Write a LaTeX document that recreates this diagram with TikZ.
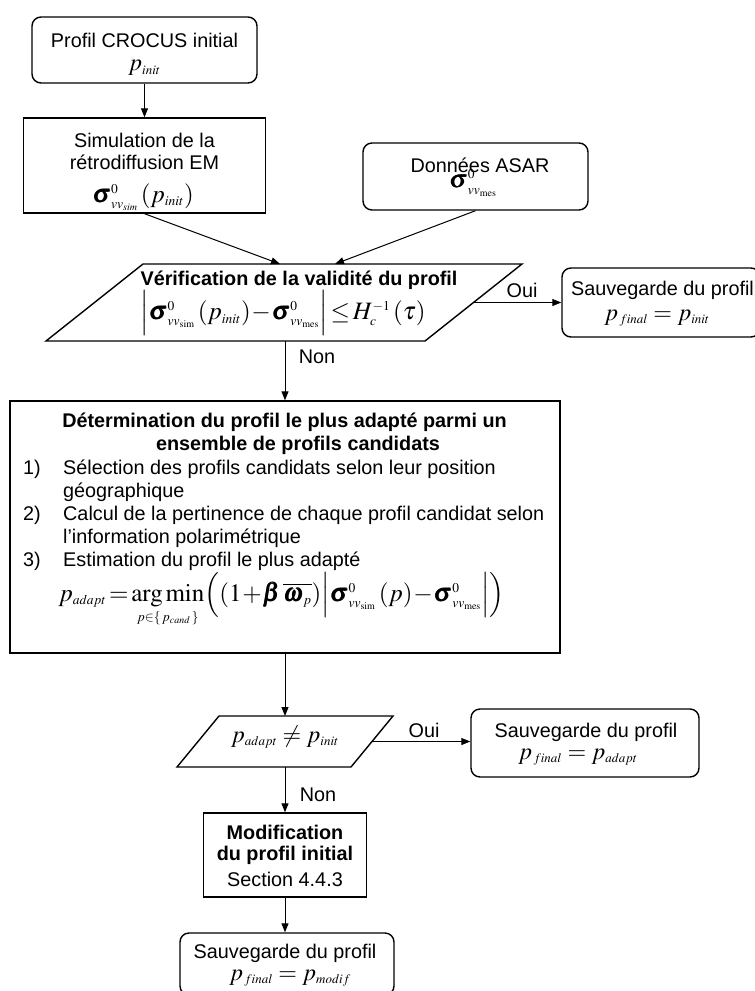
\documentclass[tikz,border=0pt]{standalone}
\usepackage{amsmath}
\usepackage{mathptmx}
\usepackage{bm}
\usepackage[no-math]{fontspec}
\setmainfont{Liberation Sans}
\usetikzlibrary{arrows.meta,calc}
\DeclareMathSizes{24}{24}{13}{10}
\DeclareMathSizes{25}{25}{13.5}{10}
\newcommand\tf{\fontsize{19.8}{23.3}\selectfont}
\newcommand\mf{\fontsize{24}{28}\selectfont}
\newcommand\mfb{\fontsize{25}{29}\selectfont}
\begin{document}
\begin{tikzpicture}[x=1pt,y=-1pt,
  sbox/.style={draw, line width=1.4pt, inner sep=0pt},
  rbox/.style={draw, line width=1.4pt, inner sep=0pt, rounded corners=9pt},
  txt/.style={inner sep=0pt, font=\tf},
  btxt/.style={inner sep=0pt, font=\tf\bfseries},
  mtxt/.style={inner sep=0pt, font=\mf},
  mbtxt/.style={inner sep=0pt, font=\mfb},
  arr/.style={line width=1pt, -{Triangle[length=9pt,width=7pt]}},
  shp/.style={line width=1.4pt, line join=miter}]
\useasboundingbox (0,0) rectangle (755,991);

% ---- boxes ----
\node[rbox, minimum width=225, minimum height=66] (A) at (144.5,50) {};
\node[sbox, minimum width=242, minimum height=95] (B) at (144.5,165.5) {};
\node[rbox, minimum width=225, minimum height=67] (C) at (475.5,176.5) {};
\node[rbox, minimum width=198, minimum height=69] (E) at (661,302.5) {};
\node[sbox, minimum width=550, minimum height=252] (F) at (285,527) {};
\node[rbox, minimum width=228, minimum height=68] (H) at (585,743) {};
\node[sbox, minimum width=163, minimum height=84] (I) at (285,855) {};
\node[rbox, minimum width=214, minimum height=62] (J) at (287,964) {};

% ---- decision shapes ----
\coordinate (d1) at (143,264); \coordinate (d2) at (522,264);
\coordinate (d3) at (425,341); \coordinate (d4) at (46,341);
\draw[shp] (d1) -- (d2) -- (d3) -- (d4) -- cycle;
\coordinate (g1) at (219,716); \coordinate (g2) at (393,716);
\coordinate (g3) at (351,767); \coordinate (g4) at (177,767);
\draw[shp] (g1) -- (g2) -- (g3) -- (g4) -- cycle;

% ---- texts ----
\node[txt] (tA1) at (144.5,40) {Profil CROCUS initial};
\node[mtxt] (tA2) at (144.5,68) {$p_{init}$};

\node[txt] (tB1) at (144.5,140) {Simulation de la};
\node[txt] (tB2) at (144.5,162) {rétrodiffusion EM};
\node[mbtxt] (tB3) at (143,197) {$\bm{\sigma}^{0}_{vv_{sim}}\,(p_{init})$};

\node[txt] (tC1) at (480,165) {Données ASAR};
\node[mbtxt] (tC2) at (473,183) {$\bm{\sigma}^{0}_{vv_{\mathrm{mes}}}$};

\node[btxt] (tD1) at (299,280) {Vérification de la validité du profil};
\node[mbtxt] (tD2) at (283,313) {$\Big|\bm{\sigma}^{0}_{vv_{\mathrm{sim}}}\,(p_{init})\!-\!\bm{\sigma}^{0}_{vv_{\mathrm{mes}}}\Big|\!\le\! H_{c}^{-1}\,(\tau)$};

\node[txt] (tE1) at (662.5,290) {Sauvegarde du profil};
\node[mtxt] (tE2) at (657,318) {$p_{\,final}=p_{init}$};

\node[txt] (oui1) at (522,290) {Oui};
\node[txt] (non1) at (317,357) {Non};

\node[btxt] (tF1) at (284.5,422) {Détermination du profil le plus adapté parmi un};
\node[btxt] (tF2) at (298,445) {ensemble de profils candidats};
\node[txt, anchor=west] (n1) at (23,469) {1)};
\node[txt, anchor=west] (l1) at (63,469) {Sélection des profils candidats selon leur position};
\node[txt, anchor=west] (l1b) at (63,492) {géographique};
\node[txt, anchor=west] (n2) at (23,515) {2)};
\node[txt, anchor=west] (l2) at (63,515) {Calcul de la pertinence de chaque profil candidat selon};
\node[txt, anchor=west] (l2b) at (63,538) {l’information polarimétrique};
\node[txt, anchor=west] (n3) at (23,561) {3)};
\node[txt, anchor=west] (l3) at (63,561) {Estimation du profil le plus adapté};
\node[mbtxt] (tF3) at (281.5,600) {$p_{adapt}\!=\!\mathop{\arg\min}\limits_{p\in\{\,p_{cand}\,\}}\!\Big((1\!+\!\bm{\beta}\,\overline{\bm{\omega}_{p}})\Big|\bm{\sigma}^{0}_{vv_{\mathrm{sim}}}\,(p)\!-\!\bm{\sigma}^{0}_{vv_{\mathrm{mes}}}\Big|\Big)$};

\node[mtxt] (tG) at (285,737) {$p_{adapt}\neq p_{init}$};
\node[txt] (oui2) at (424,730) {Oui};
\node[txt] (tH1) at (586,732) {Sauvegarde du profil};
\node[mtxt] (tH2) at (578,757) {$p_{\,final}=p_{adapt}$};
\node[txt] (non2) at (318,795) {Non};

\node[btxt] (tI1) at (285,832) {Modification};
\node[btxt] (tI2) at (285,855) {du profil initial};
\node[txt] (tI3) at (285,879) {Section 4.4.3};

\node[txt] (tJ1) at (285,953) {Sauvegarde du profil};
\node[mtxt] (tJ2) at (290,978) {$p_{\,final}=p_{modif}$};

% ---- connectors ----
\coordinate (Din1) at (280,264);
\coordinate (Din2) at (335,264);
\coordinate (Dout) at ($(d2)!0.5!(d3)$);
\coordinate (Dbot) at (285,341);
\coordinate (Gtop) at (285,716);
\coordinate (Gout) at ($(g2)!0.5!(g3)$);
\coordinate (Gbot) at (285,767);

\draw[arr] (A.south) -- (B.north);
\draw[arr] (B.south) -- (Din1);
\draw[arr] (C.south) -- (Din2);
\draw[arr] (Dout) -- (Dout -| E.west);
\draw[arr] (Dbot) -- (F.north);
\draw[arr] (F.south) -- (Gtop);
\draw[arr] (Gout) -- (Gout -| H.west);
\draw[arr] (Gbot) -- (I.north);
\draw[arr] (I.south) -- (I.south |- J.north);
\end{tikzpicture}
\end{document}
